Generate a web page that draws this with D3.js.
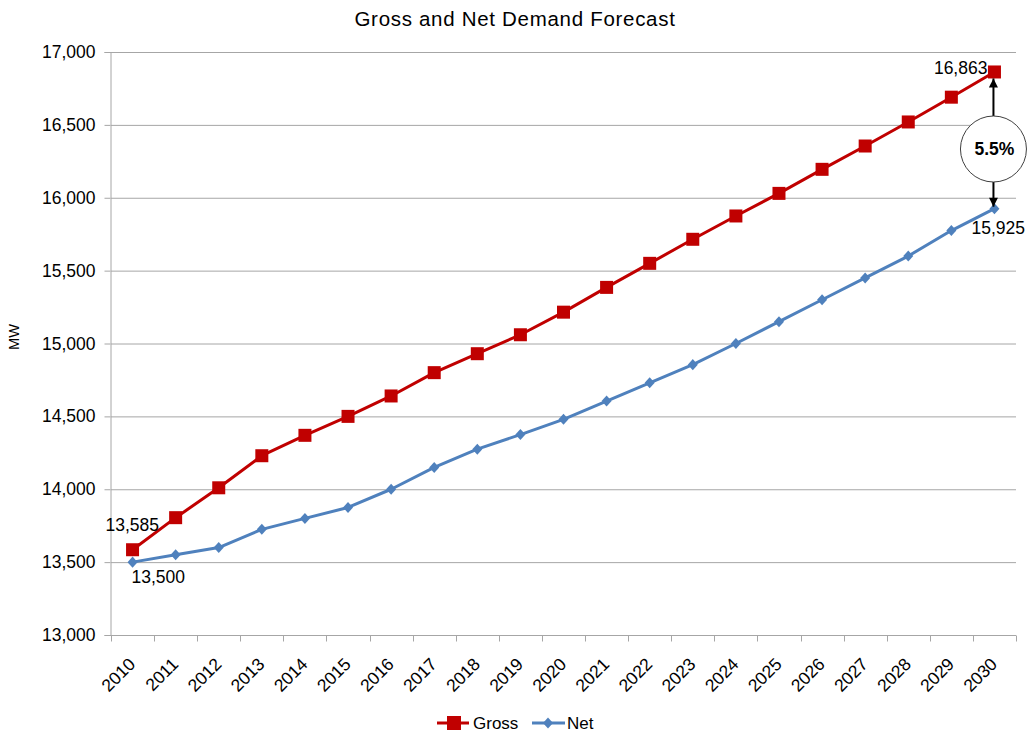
<!DOCTYPE html>
<html>
<head>
<meta charset="utf-8">
<script src="https://cdn.jsdelivr.net/npm/d3@7"></script>
<style>
  body { margin: 0; background: #fff; }
  svg text { font-family: "Liberation Sans", Arial, sans-serif; fill: #000; }
</style>
</head>
<body>
<svg id="chart" width="1029" height="736"></svg>
<script>
// Forecast years and demand series (MW)
const years = ["2010","2011","2012","2013","2014","2015","2016","2017","2018","2019","2020",
               "2021","2022","2023","2024","2025","2026","2027","2028","2029","2030"];
const gross = [13585,13805,14010,14230,14370,14500,14640,14800,14930,15060,15215,
               15385,15550,15715,15875,16030,16195,16355,16520,16690,16863];
const net   = [13500,13550,13600,13725,13800,13875,14000,14150,14275,14375,14480,
               14605,14730,14855,15000,15150,15300,15450,15600,15775,15925];
const yTicks = [13000,13500,14000,14500,15000,15500,16000,16500,17000];
const gapLabel = "5.5%";

const svg = d3.select("#chart");
const m = { left: 111, right: 1016, top: 52, bottom: 635 };
const FS = "17.5px";

const x = d3.scaleBand().domain(years).range([m.left, m.right]);
const y = d3.scaleLinear().domain([13000, 17000]).range([m.bottom, m.top]);
const cx = d => x(d) + x.bandwidth() / 2;

// Title
svg.append("text").attr("x", 515).attr("y", 26).attr("text-anchor", "middle")
  .style("font-size", "20.5px").style("letter-spacing", "0.7px")
  .text("Gross and Net Demand Forecast");

// Horizontal gridlines
svg.append("g").selectAll("line").data(yTicks.filter(t => t > 13000)).join("line")
  .attr("x1", m.left).attr("x2", m.right)
  .attr("y1", d => y(d) + 0.5).attr("y2", d => y(d) + 0.5)
  .attr("stroke", "#a6a6a6").attr("stroke-width", 1);

// Y axis
const yAxis = svg.append("g").attr("transform", `translate(${m.left - 0.5},0)`)
  .call(d3.axisLeft(y).tickValues(yTicks).tickFormat(d3.format(",")).tickSize(6).tickPadding(9));
yAxis.select(".domain").attr("stroke", "#a6a6a6");
yAxis.selectAll(".tick line").attr("stroke", "#a6a6a6");
yAxis.selectAll(".tick text").style("font-size", FS).attr("fill", "#000");

// X axis with ticks at band edges
const xAxisG = svg.append("g").attr("transform", `translate(0,${m.bottom + 0.5})`);
xAxisG.append("line").attr("x1", m.left).attr("x2", m.right).attr("stroke", "#a6a6a6");
const edges = years.map(d => x(d)).concat([m.right]);
xAxisG.selectAll("line.tk").data(edges).join("line").attr("class", "tk")
  .attr("x1", d => Math.round(d) + 0.5).attr("x2", d => Math.round(d) + 0.5)
  .attr("y1", 0).attr("y2", 6).attr("stroke", "#a6a6a6");
xAxisG.selectAll("text").data(years).join("text")
  .attr("transform", d => `translate(${cx(d) - 5},${21}) rotate(-45)`)
  .attr("text-anchor", "end").attr("dy", "0.71em")
  .style("font-size", FS).text(d => d);

// Y axis title
svg.append("text").attr("transform", "translate(19,337) rotate(-90)")
  .attr("text-anchor", "middle").style("font-size", "14.5px").text("MW");

const line = d3.line().x((d, i) => cx(years[i])).y(d => y(d));

// Net series
svg.append("path").datum(net).attr("d", line).attr("fill", "none")
  .attr("stroke", "#4f81bd").attr("stroke-width", 3).attr("stroke-linejoin", "round");
svg.append("g").selectAll("path").data(net).join("path")
  .attr("d", d3.symbol(d3.symbolDiamond2, 64))
  .attr("transform", (d, i) => `translate(${cx(years[i])},${y(d)}) scale(1,1.1)`)
  .attr("fill", "#4f81bd");

// Gross series
svg.append("path").datum(gross).attr("d", line).attr("fill", "none")
  .attr("stroke", "#c00000").attr("stroke-width", 3).attr("stroke-linejoin", "round");
svg.append("g").selectAll("rect").data(gross).join("rect")
  .attr("x", (d, i) => cx(years[i]) - 6.5).attr("y", d => y(d) - 6.5)
  .attr("width", 13).attr("height", 13).attr("fill", "#c00000");

// End-point value labels
const fmt = d3.format(",");
const last = years.length - 1;
svg.append("text").attr("x", cx(years[0]) - 27).attr("y", y(gross[0]) - 19)
  .style("font-size", FS).text(fmt(gross[0]));
svg.append("text").attr("x", cx(years[0]) - 1).attr("y", y(net[0]) + 21)
  .style("font-size", FS).text(fmt(net[0]));
svg.append("text").attr("x", cx(years[last]) - 7).attr("y", y(gross[last]) + 2)
  .attr("text-anchor", "end").style("font-size", FS).text(fmt(gross[last]));
svg.append("text").attr("x", cx(years[last]) - 23).attr("y", y(net[last]) + 25)
  .style("font-size", FS).text(fmt(net[last]));

// Gap annotation: circle with arrows to both series
const ax = cx(years[last]) - 1;
const cy = 149, r = 33;
const defs = svg.append("defs");
defs.append("marker").attr("id", "arrow").attr("viewBox", "0 0 10 10")
  .attr("markerUnits", "userSpaceOnUse")
  .attr("refX", 10).attr("refY", 5).attr("markerWidth", 11).attr("markerHeight", 9)
  .attr("orient", "auto").append("path").attr("d", "M0,0L10,5L0,10z").attr("fill", "#000");
svg.append("line").attr("x1", ax).attr("x2", ax).attr("y1", cy - r).attr("y2", y(gross[last]) + 6.5)
  .attr("stroke", "#000").attr("stroke-width", 2).attr("marker-end", "url(#arrow)");
svg.append("line").attr("x1", ax).attr("x2", ax).attr("y1", cy + r).attr("y2", y(net[last]) - 2)
  .attr("stroke", "#000").attr("stroke-width", 2).attr("marker-end", "url(#arrow)");
svg.append("circle").attr("cx", ax).attr("cy", cy).attr("r", r)
  .attr("fill", "#fff").attr("stroke", "#404040").attr("stroke-width", 1);
svg.append("text").attr("x", ax + 1).attr("y", cy + 6).attr("text-anchor", "middle")
  .style("font-size", FS).style("font-weight", "bold").text(gapLabel);

// Legend
const lg = svg.append("g").attr("transform", "translate(0,723)");
lg.append("line").attr("x1", 437).attr("x2", 469).attr("y1", 0).attr("y2", 0)
  .attr("stroke", "#c00000").attr("stroke-width", 3);
lg.append("rect").attr("x", 447).attr("y", -7).attr("width", 14).attr("height", 14).attr("fill", "#c00000");
lg.append("text").attr("x", 473).attr("y", 6).style("font-size", "17px").text("Gross");
lg.append("line").attr("x1", 532).attr("x2", 565).attr("y1", 0).attr("y2", 0)
  .attr("stroke", "#4f81bd").attr("stroke-width", 3);
lg.append("path").attr("d", d3.symbol(d3.symbolDiamond2, 64))
  .attr("transform", "translate(548,0) scale(1,1.1)").attr("fill", "#4f81bd");
lg.append("text").attr("x", 567).attr("y", 6).style("font-size", "17px").text("Net");
</script>
</body>
</html>
